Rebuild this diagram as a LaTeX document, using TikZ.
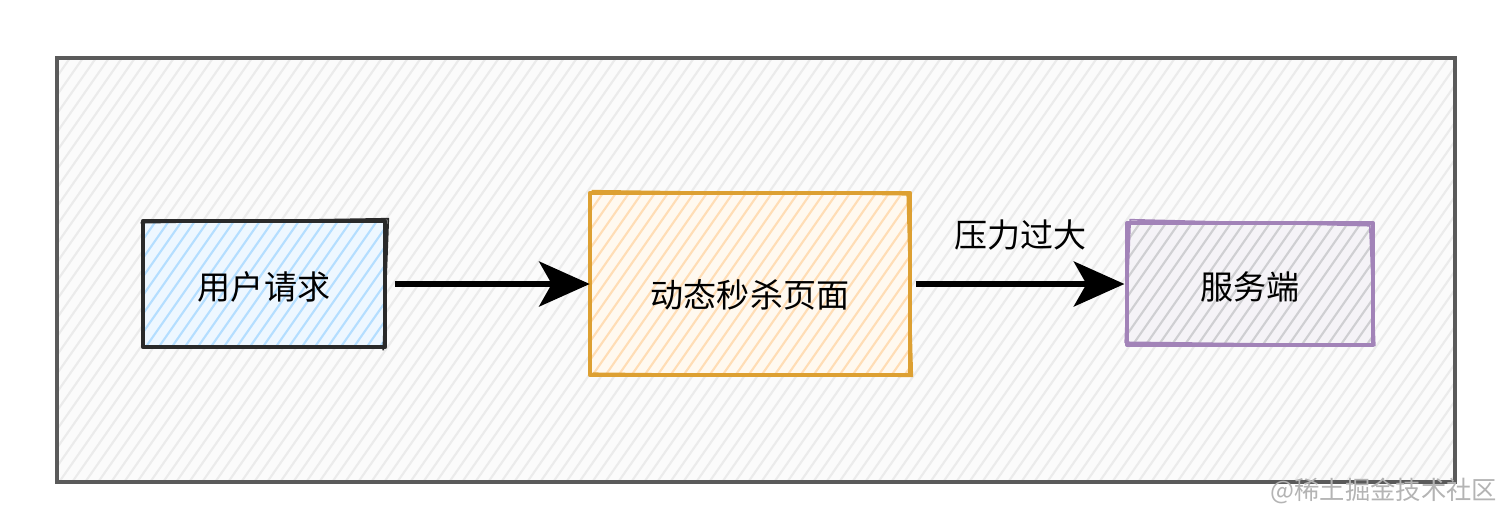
\documentclass[tikz,border=0pt]{standalone}
\usepackage{fontspec}
\newfontfamily\cjk{Noto Sans CJK SC}
\usetikzlibrary{arrows.meta}

\definecolor{framegray}{HTML}{5A5A5A}
\definecolor{framehatch}{HTML}{EBEBEB}
\definecolor{blueline}{HTML}{2A2A2A}
\definecolor{bluehatch}{HTML}{B4DEFF}
\definecolor{bluebg}{HTML}{EEF7FF}
\definecolor{orangeline}{HTML}{DDA032}
\definecolor{orangehatch}{HTML}{FFDDB5}
\definecolor{orangebg}{HTML}{FFF9F0}
\definecolor{purpleline}{HTML}{A283B8}
\definecolor{purplehatch}{HTML}{CFCFD2}
\definecolor{purplebg}{HTML}{F5F3F7}
\definecolor{markgray}{HTML}{B4B4B4}

% diagonal pencil hatching inside a rectangle: x1 y1 x2 y2 colour
\newcommand\hatchrect[5]{%
  \begin{scope}
    \clip (#1,#2) rectangle (#3,#4);
    \pgfmathsetmacro\hh{#4-#2}
    \pgfmathsetmacro\hs{#1-0.7*\hh}
    \pgfmathsetmacro\hn{\hs+13}
    \foreach \s in {\hs,\hn,...,#3}
      \draw[#5,line width=1.5,line cap=round] (\s,#4) -- ++({0.7*\hh},{-\hh});
  \end{scope}}

\begin{document}
\begin{tikzpicture}[x=0.025cm,y=-0.025cm,
  boxnode/.style={rectangle,draw=none,inner sep=0pt},
  boxtext/.style={font=\cjk\fontsize{23.5}{27}\selectfont},
  flow/.style={line width=4,-{Stealth[length=36,width=32,inset=9]}},
  sketch/.style={line width=2.6,line join=round}]

\useasboundingbox (0,0) rectangle (1512,528);
\fill[white] (0,0) rectangle (1512,528);

% outer frame
\fill[gray!3] (57,58) rectangle (1455,482);
\hatchrect{57}{58}{1455}{482}{framehatch}
\draw[framegray,line width=3] (57,58) rectangle (1455,482);
\draw[framegray,line width=1.2] (56,57) -- (1456,59);

% boxes
\node[boxnode,minimum width=242*0.025cm,minimum height=126*0.025cm] (req) at (264,284) {};
\node[boxnode,minimum width=320*0.025cm,minimum height=182*0.025cm] (page) at (750,284) {};
\node[boxnode,minimum width=245*0.025cm,minimum height=122*0.025cm] (srv) at (1250,284) {};

\fill[bluebg] (143,221) rectangle (385,347);
\hatchrect{143}{221}{385}{347}{bluehatch}
\draw[sketch,blueline] (req.north west) rectangle (req.south east);
\draw[blueline,line width=1.2] ([shift={(-2,2)}]req.north west) -- ([shift={(3,-2)}]req.north east)
  -- ([shift={(-2,3)}]req.south east);

\fill[orangebg] (590,193) rectangle (910,375);
\hatchrect{590}{193}{910}{375}{orangehatch}
\draw[sketch,orangeline] (page.north west) rectangle (page.south east);
\draw[orangeline,line width=1.2] ([shift={(2,-2)}]page.north west) -- ([shift={(-3,2)}]page.north east)
  -- ([shift={(2,1)}]page.south east) -- ([shift={(3,-2)}]page.south west);

\fill[purplebg] (1127,223) rectangle (1372,345);
\hatchrect{1127}{223}{1372}{345}{purplehatch}
\draw[sketch,purpleline] (srv.north west) rectangle (srv.south east);
\draw[purpleline,line width=1.2] ([shift={(3,-3)}]srv.north west) -- ([shift={(-3,3)}]srv.north east)
  -- ([shift={(2,0)}]srv.south east) -- ([shift={(-2,-3)}]srv.south west) -- cycle;

\node[boxtext] (reqt) at ([yshift=-2pt]req.center) {用户请求};
\node[boxtext] (paget) at ([yshift=-8pt]page.center) {动态秒杀页面};
\node[boxtext] (srvt) at ([yshift=-2pt]srv.center) {服务端};

% connectors
\draw[flow] ([xshift=7]req.east) -- (page.west);
\draw[flow] ([xshift=4]page.east) -- node[boxtext,above=19pt] (lbl) {压力过大} ([xshift=-2]srv.west);

% credit line
\node[font=\cjk\fontsize{18}{20}\selectfont,text=markgray,anchor=east] (mark) at (1502,491) {@稀土掘金技术社区};
\end{tikzpicture}
\end{document}
